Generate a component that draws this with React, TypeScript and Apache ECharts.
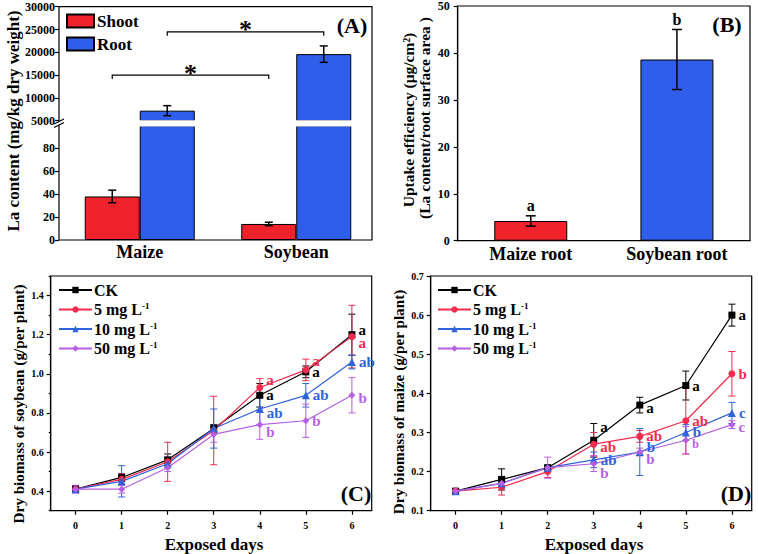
import React, { useEffect, useRef } from 'react';
import * as echarts from 'echarts';

const FONT = '"Liberation Serif", "Times New Roman", serif';

// ---------- Panel A : La content ----------
const plantCategories = ['Maize', 'Soybean'];
const shootContent = [38, 14];
const shootContentErr = [5.5, 1.5];
const rootContent = [7200, 19600];
const rootContentErr = [1100, 1800];
const lowerTicksA = [0, 20, 40, 60, 80];
const upperTicksA = [5000, 10000, 15000, 20000, 25000, 30000];
const sigShootLevel = 15000;
const sigRootLevel = 24500;

// ---------- Panel B : uptake efficiency ----------
const rootCategories = ['Maize root', 'Soybean root'];
const uptakeEfficiency = [4.2, 38.6];
const uptakeErr = [1.1, 6.4];
const uptakeLetters = ['a', 'b'];
const uptakeTicks = [0, 10, 20, 30, 40, 50];

// ---------- Panels C & D : biomass ----------
const days = [0, 1, 2, 3, 4, 5, 6];
const treatments = ['CK', '5 mg L-1', '10 mg L-1', '50 mg L-1'];
const soyTicks = [0.4, 0.6, 0.8, 1.0, 1.2, 1.4];
const soyMinorTicks = [0.3, 0.5, 0.7, 0.9, 1.1, 1.3, 1.5];
const maizeTicks = [0.1, 0.2, 0.3, 0.4, 0.5, 0.6, 0.7];

const soyCK = [0.41, 0.47, 0.56, 0.72, 0.89, 1.01, 1.2];
const soyCKErr = [0.015, 0.02, 0.03, 0.02, 0.06, 0.03, 0.105];
const soyCKLetters = ['', '', '', '', 'a', 'a', 'a'];
const soy5 = [0.41, 0.46, 0.55, 0.71, 0.93, 1.02, 1.19];
const soy5Err = [0.015, 0.03, 0.1, 0.175, 0.045, 0.055, 0.16];
const soy5Letters = ['', '', '', '', 'a', 'a', 'a'];
const soy10 = [0.41, 0.45, 0.54, 0.72, 0.82, 0.89, 1.06];
const soy10Err = [0.015, 0.08, 0.02, 0.1, 0.08, 0.06, 0.035];
const soy10Letters = ['', '', '', '', 'ab', 'ab', 'ab'];
const soy50 = [0.41, 0.41, 0.52, 0.69, 0.74, 0.76, 0.89];
const soy50Err = [0.02, 0.02, 0.02, 0.04, 0.075, 0.085, 0.09];
const soy50Letters = ['', '', '', '', 'b', 'b', 'b'];

const maizeCK = [0.15, 0.18, 0.21, 0.28, 0.37, 0.42, 0.6];
const maizeCKErr = [0.005, 0.027, 0.005, 0.043, 0.02, 0.037, 0.028];
const maizeCKLetters = ['', '', '', 'a', 'a', 'a', 'a'];
const maize5 = [0.15, 0.16, 0.2, 0.27, 0.29, 0.33, 0.45];
const maize5Err = [0.005, 0.02, 0.015, 0.03, 0.015, 0.085, 0.057];
const maize5Letters = ['', '', '', 'ab', 'ab', 'ab', 'b'];
const maize10 = [0.15, 0.17, 0.21, 0.23, 0.25, 0.3, 0.35];
const maize10Err = [0.005, 0.01, 0.005, 0.02, 0.06, 0.02, 0.027];
const maize10Letters = ['', '', '', 'ab', 'b', 'b', 'c'];
const maize50 = [0.15, 0.17, 0.21, 0.22, 0.25, 0.28, 0.32];
const maize50Err = [0.005, 0.01, 0.027, 0.02, 0.01, 0.035, 0.01];
const maize50Letters = ['', '', '', 'b', 'b', 'b', 'c'];

// ---------- styling (not data) ----------
const RED_BAR = '#f0222b';
const BLUE_BAR = '#2f5fea';
const treatmentColors = ['#000000', '#f42a4e', '#2f63dc', '#b65fe4'];
const treatmentSymbols = ['rect', 'circle', 'triangle', 'diamond'];
const soyLetterDy = [
  [0, 0, 0, 0, 0, 0, -5],
  [0, 0, 0, 0, -7, -9, 6],
  [0, 0, 0, 0, 4, 0, 0],
  [0, 0, 0, 0, 7, 0, 3],
];
const maizeLetterDy = [
  [0, 0, 0, -13, 3, 0, 0],
  [0, 0, 0, 3, 0, 0, 0],
  [0, 0, 0, 0, -5, 0, 0],
  [0, 0, 0, 9, 7, 4, 2],
];
const maizeLetterSize = [
  [15, 15, 15, 15, 15, 15, 15],
  [15, 15, 15, 15, 15, 15, 15],
  [15, 15, 15, 15, 15, 15, 15],
  [15, 15, 15, 15, 15, 12, 15],
];

const bold = (size: number) => ({ fontFamily: FONT, fontWeight: 'bold', fontSize: size, color: '#000' });

function errorBarSeries(xi: number, yi: number, rows: number[][], color: string, capHalf: number, lw: number, slotWidth = 0, letters?: string[]) {
  return {
    type: 'custom',
    xAxisIndex: xi,
    yAxisIndex: yi,
    z: 5,
    silent: true,
    data: rows,
    renderItem: (params: any, api: any) => {
      const x = api.value(0);
      const y = api.value(1);
      const e = api.value(2);
      const slot = rows[params.dataIndex][3];
      const dx = slotWidth ? ((slot as number) - 0.5) * slotWidth : 0;
      const hi = api.coord([x, y + e]);
      const lo = api.coord([x, y - e]);
      const cx = hi[0] + dx;
      const st = { stroke: color, lineWidth: lw };
      const children: any[] = [
        { type: 'line', shape: { x1: cx, y1: hi[1], x2: cx, y2: lo[1] }, style: st },
        { type: 'line', shape: { x1: cx - capHalf, y1: hi[1], x2: cx + capHalf, y2: hi[1] }, style: st },
        { type: 'line', shape: { x1: cx - capHalf, y1: lo[1], x2: cx + capHalf, y2: lo[1] }, style: st },
      ];
      if (letters && letters[params.dataIndex]) {
        children.push({
          type: 'text',
          x: cx,
          y: hi[1] - 2,
          style: {
            text: letters[params.dataIndex],
            align: 'center', verticalAlign: 'bottom',
            textAlign: 'center', textVerticalAlign: 'bottom',
            fontFamily: FONT, fontWeight: 'bold', fontSize: 16, fill: '#000',
          },
        });
      }
      return { type: 'group', children };
    },
  };
}

function bracketSeries() {
  const rows = [
    [0, 1, 0, sigShootLevel],
    [0, 1, 1, sigRootLevel],
  ];
  return {
    type: 'custom',
    xAxisIndex: 0,
    yAxisIndex: 0,
    z: 6,
    silent: true,
    data: rows,
    renderItem: (params: any, api: any) => {
      const r = rows[params.dataIndex];
      const dx = (r[2] - 0.5) * 55;
      const a = api.coord([r[0], r[3]]);
      const b = api.coord([r[1], r[3]]);
      const x1 = a[0] + dx;
      const x2 = b[0] + dx;
      const y = a[1];
      const st = { stroke: '#000', lineWidth: 1.2, fill: 'none' };
      return {
        type: 'group',
        children: [
          { type: 'polyline', shape: { points: [[x1, y + 4], [x1, y], [x2, y], [x2, y + 4]] }, style: st },
          {
            type: 'text',
            x: (x1 + x2) / 2,
            y: y + 11,
            style: {
              text: '*', align: 'center', verticalAlign: 'bottom',
              textAlign: 'center', textVerticalAlign: 'bottom',
              fontFamily: FONT, fontWeight: 'bold', fontSize: 26, fill: '#000',
            },
          },
        ],
      };
    },
  };
}

function lineWithLetters(xi: number, yi: number, k: number, values: number[], letters: string[], dys: number[], sizes?: number[]) {
  const color = treatmentColors[k];
  return {
    type: 'line',
    name: treatments[k],
    xAxisIndex: xi,
    yAxisIndex: yi,
    z: 10,
    symbol: treatmentSymbols[k],
    symbolSize: k === 2 ? 8 : 7,
    color,
    itemStyle: { color },
    lineStyle: { color, width: 1.2 },
    data: values.map((v, i) => ({
      value: [days[i], v],
      label: letters[i]
        ? {
            show: true,
            formatter: letters[i],
            position: 'right',
            distance: 3,
            offset: [0, dys[i]],
            color,
            fontFamily: FONT,
            fontWeight: 'bold',
            fontSize: sizes ? sizes[i] : 15,
          }
        : { show: false },
    })),
  };
}

function rowsOf(values: number[], errs: number[]) {
  return values.map((v, i) => [days[i], v, errs[i]]);
}

function legendFormatter(name: string) {
  if (name.indexOf('L-1') >= 0) return `{n|${name.replace(' L-1', ' L')}}{s|-1}`;
  return `{n|${name}}`;
}

const legendRich = {
  n: { fontFamily: FONT, fontWeight: 'bold', fontSize: 16, color: '#000', lineHeight: 16 },
  s: { fontFamily: FONT, fontWeight: 'bold', fontSize: 9, color: '#000', verticalAlign: 'top', lineHeight: 16 },
};

function buildOption() {
  const gridBox = { show: true, borderColor: '#000', borderWidth: 1.2, backgroundColor: 'transparent' };
  const soyVals = [soyCK, soy5, soy10, soy50];
  const soyErrs = [soyCKErr, soy5Err, soy10Err, soy50Err];
  const soyLet = [soyCKLetters, soy5Letters, soy10Letters, soy50Letters];
  const mzVals = [maizeCK, maize5, maize10, maize50];
  const mzErrs = [maizeCKErr, maize5Err, maize10Err, maize50Err];
  const mzLet = [maizeCKLetters, maize5Letters, maize10Letters, maize50Letters];

  const series: any[] = [
    // Panel A upper (5000-30000)
    {
      type: 'bar', name: 'Shoot', xAxisIndex: 0, yAxisIndex: 0, barWidth: 55, barGap: '0%',
      itemStyle: { color: RED_BAR, borderColor: '#000', borderWidth: 1 },
      data: shootContent.map((v) => (v >= 5000 ? v : '-')),
    },
    {
      type: 'bar', name: 'Root', xAxisIndex: 0, yAxisIndex: 0, barWidth: 55, barGap: '0%',
      itemStyle: { color: BLUE_BAR, borderColor: '#000', borderWidth: 1 },
      data: rootContent,
    },
    // Panel A lower (0-100)
    {
      type: 'bar', name: 'Shoot', xAxisIndex: 1, yAxisIndex: 1, barWidth: 55, barGap: '0%',
      itemStyle: { color: RED_BAR, borderColor: '#000', borderWidth: 1 },
      data: shootContent,
    },
    {
      type: 'bar', name: 'Root', xAxisIndex: 1, yAxisIndex: 1, barWidth: 55, barGap: '0%',
      itemStyle: { color: BLUE_BAR, borderColor: '#000', borderWidth: 1 },
      data: rootContent,
    },
    errorBarSeries(0, 0, rootContent.map((v, i) => [i, v, rootContentErr[i], 1]), '#000', 4, 1.5, 55),
    errorBarSeries(1, 1, shootContent.map((v, i) => [i, v, shootContentErr[i], 0]), '#000', 4, 1.5, 55),
    bracketSeries(),
    // Panel B
    {
      type: 'bar', name: 'Uptake', xAxisIndex: 2, yAxisIndex: 2, barWidth: 73,
      data: uptakeEfficiency.map((v, i) => ({
        value: v,
        itemStyle: { color: i === 0 ? RED_BAR : BLUE_BAR, borderColor: '#000', borderWidth: 1 },
      })),
    },
    errorBarSeries(2, 2, uptakeEfficiency.map((v, i) => [i, v, uptakeErr[i]]), '#000', 5, 1.5, 0, uptakeLetters),
  ];

  for (let k = 0; k < 4; k++) {
    series.push(errorBarSeries(3, 3, rowsOf(soyVals[k], soyErrs[k]), treatmentColors[k], 3.5, 1));
    series.push(lineWithLetters(3, 3, k, soyVals[k], soyLet[k], soyLetterDy[k]));
  }
  for (let k = 0; k < 4; k++) {
    series.push(errorBarSeries(4, 4, rowsOf(mzVals[k], mzErrs[k]), treatmentColors[k], 3.5, 1));
    series.push(lineWithLetters(4, 4, k, mzVals[k], mzLet[k], maizeLetterDy[k], maizeLetterSize[k]));
  }

  const noLine = { show: false, onZero: false };
  const blackLine = { show: true, onZero: false, lineStyle: { color: '#000', width: 1.2 } };
  const tickOut = (len: number) => ({ show: true, inside: false, length: len, lineStyle: { color: '#000', width: 1.2 } });

  const titleText = (text: string, x: number, y: number, size: number, rotate = false) => ({
    type: 'text',
    x, y,
    rotation: rotate ? Math.PI / 2 : 0,
    z: 120,
    style: {
      text,
      align: 'center', verticalAlign: 'middle',
      textAlign: 'center', textVerticalAlign: 'middle',
      fontFamily: FONT, fontWeight: 'bold', fontSize: size, fill: '#000',
    },
  });

  const plain = (v: number) => String(v);

  return {
    animation: false,
    backgroundColor: '#ffffff',
    textStyle: { fontFamily: FONT },
    grid: [
      { left: 61.5, top: 6.7, width: 313, height: 114, outerBoundsMode: 'none' },
      { left: 61.5, top: 126, width: 313, height: 114, outerBoundsMode: 'none' },
      { left: 457.7, top: 6, width: 292.3, height: 234.7, outerBoundsMode: 'none', ...gridBox },
      { left: 50.7, top: 276, width: 321, height: 234.7, outerBoundsMode: 'none', ...gridBox },
      { left: 430.7, top: 276, width: 321, height: 234.7, outerBoundsMode: 'none', ...gridBox },
    ],
    xAxis: [
      { type: 'category', gridIndex: 0, data: plantCategories, show: false },
      {
        type: 'category', gridIndex: 1, data: plantCategories,
        axisLine: noLine, axisTick: { show: false }, splitLine: { show: false },
        axisLabel: { ...bold(18), margin: 3 },
      },
      {
        type: 'category', gridIndex: 2, data: rootCategories,
        axisLine: blackLine, axisTick: { show: false }, splitLine: { show: false },
        axisLabel: { ...bold(18), margin: 4 },
      },
      {
        type: 'value', gridIndex: 3, min: -0.54, max: 6.43,
        axisLine: blackLine,
        axisTick: { ...tickOut(4), customValues: days },
        axisLabel: { ...bold(10), margin: 10, customValues: days },
        splitLine: { show: false },
      },
      {
        type: 'value', gridIndex: 4, min: -0.54, max: 6.43,
        axisLine: blackLine,
        axisTick: { ...tickOut(4), customValues: days },
        axisLabel: { ...bold(10), margin: 10, customValues: days },
        splitLine: { show: false },
      },
    ],
    yAxis: [
      {
        type: 'value', gridIndex: 0, position: 'left', min: 5000, max: 30000, offset: 2.5,
        axisLine: noLine, axisTick: { ...tickOut(4), customValues: upperTicksA },
        axisLabel: { ...bold(12), margin: 4, customValues: upperTicksA, formatter: plain },
        splitLine: { show: false },
      },
      {
        type: 'value', gridIndex: 1, position: 'left', min: 0, max: 99.5, offset: 2.5,
        axisLine: noLine, axisTick: { ...tickOut(4), customValues: lowerTicksA },
        axisLabel: { ...bold(12), margin: 4, customValues: lowerTicksA, formatter: plain },
        splitLine: { show: false },
      },
      {
        type: 'value', gridIndex: 2, position: 'left', min: 0, max: 50,
        axisLine: blackLine,
        axisTick: { ...tickOut(4), customValues: uptakeTicks },
        axisLabel: { ...bold(12), margin: 8, customValues: uptakeTicks, formatter: plain },
        splitLine: { show: false },
      },
      {
        type: 'value', gridIndex: 3, position: 'left', min: 0.3, max: 1.5,
        axisLine: blackLine,
        axisTick: { ...tickOut(4), customValues: soyTicks },
        axisLabel: { ...bold(10), margin: 7, customValues: soyTicks, formatter: (v: number) => v.toFixed(1) },
        splitLine: { show: false },
      },
      {
        type: 'value', gridIndex: 4, position: 'left', min: 0.1, max: 0.7,
        axisLine: blackLine,
        axisTick: { ...tickOut(4), customValues: maizeTicks },
        axisLabel: { ...bold(10), margin: 7, customValues: maizeTicks, formatter: (v: number) => v.toFixed(1) },
        splitLine: { show: false },
      },
      {
        type: 'value', gridIndex: 3, position: 'left', offset: 0, min: 0.3, max: 1.5,
        axisLine: noLine,
        axisTick: { ...tickOut(2), customValues: soyMinorTicks },
        axisLabel: { show: false },
        splitLine: { show: false },
      },
    ],
    legend: [
      {
        data: ['Shoot', 'Root'], left: 66, top: 12.5, orient: 'vertical', padding: 0,
        itemWidth: 27, itemHeight: 13, itemGap: 6, icon: 'rect',
        textStyle: { ...bold(17), padding: [0, 0, 0, -2] },
      },
      {
        data: treatments, left: 58, top: 282, orient: 'vertical', padding: 0,
        itemWidth: 33, itemHeight: 8, itemGap: 3.5,
        formatter: legendFormatter,
        textStyle: { ...bold(16), rich: legendRich, padding: [0, 0, 0, -3] },
      },
      {
        data: treatments, left: 437, top: 282, orient: 'vertical', padding: 0,
        itemWidth: 33, itemHeight: 8, itemGap: 3.5,
        formatter: legendFormatter,
        textStyle: { ...bold(16), rich: legendRich, padding: [0, 0, 0, -3] },
      },
    ],
    graphic: [
      // Panel A frame with axis break
      { type: 'rect', z: 99, shape: { x: 60, y: 120.3, width: 311, height: 6.2 }, style: { fill: '#fff' } },
      { type: 'rect', z: 100, shape: { x: 59, y: 6.7, width: 313, height: 233.3 }, style: { fill: 'none', stroke: '#000', lineWidth: 1.2 } },
      { type: 'rect', z: 101, shape: { x: 56, y: 121.5, width: 6, height: 3.5 }, style: { fill: '#fff' } },
      { type: 'line', z: 102, shape: { x1: 54, y1: 124, x2: 64, y2: 119 }, style: { stroke: '#000', lineWidth: 1.2 } },
      { type: 'line', z: 102, shape: { x1: 54, y1: 127.5, x2: 64, y2: 122.5 }, style: { stroke: '#000', lineWidth: 1.2 } },
      // axis titles
      titleText('La content (mg/kg dry weight)', 13, 121, 17, true),
      titleText('Uptake efficiency (μg/cm²)', 408, 120, 15.5, true),
      titleText('(La content/root surface area )', 424, 118, 15.5, true),
      titleText('Dry biomass of soybean (g/per plant)', 18.5, 404, 15.2, true),
      titleText('Dry biomass of maize (g/per plant)', 398, 402, 15.2, true),
      titleText('Exposed days', 214, 544, 17),
      titleText('Exposed days', 594, 544, 17),
      // panel tags
      titleText('(A)', 352, 25, 22),
      titleText('(B)', 727, 24, 22),
      titleText('(C)', 356, 493, 22),
      titleText('(D)', 736, 493, 22),
    ],
    series,
  };
}

export default function App() {
  const ref = useRef<HTMLDivElement>(null);
  useEffect(() => {
    document.body.style.margin = '0';
    const chart = echarts.init(ref.current as HTMLDivElement, null, { renderer: 'svg' });
    chart.setOption(buildOption() as any);
    return () => chart.dispose();
  }, []);
  return <div ref={ref} style={{ width: 758, height: 554 }} />;
}
